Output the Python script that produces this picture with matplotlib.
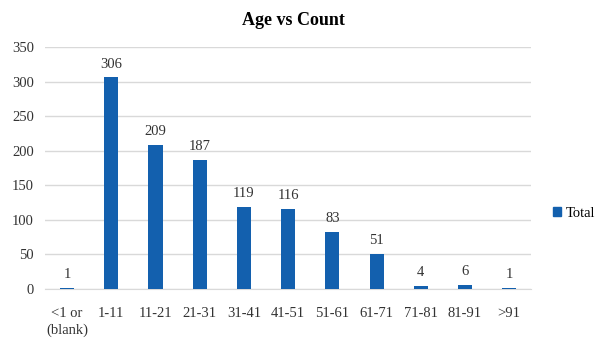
import matplotlib.pyplot as plt
from matplotlib.patches import Patch

plt.rcParams["font.family"] = ["Liberation Serif", "DejaVu Serif"]

categories = ["<1 or\n(blank)", "1-11", "11-21", "21-31", "31-41", "41-51",
              "51-61", "61-71", "71-81", "81-91", ">91"]
totals = [1, 306, 209, 187, 119, 116, 83, 51, 4, 6, 1]

bar_color = "#1360AE"

fig = plt.figure(figsize=(5.96, 3.41), dpi=100, facecolor="white")
ax = fig.add_axes([0.0755, 0.1525, 0.816, 0.7095])

x = range(len(categories))
ax.bar(x, totals, width=0.32, color=bar_color, zorder=3)
for xi, v in zip(x, totals):
    ax.text(xi, v + 10, str(v), ha="center", va="bottom", fontsize=10.5,
            color="#333333")

ax.set_xlim(-0.5, len(categories) - 0.5)
ax.set_ylim(0, 350)
ax.set_yticks(range(0, 351, 50))
ax.set_xticks(list(x))
ax.set_xticklabels(categories, fontsize=10.5, color="#333333", va="top",
                   linespacing=1.35)
ax.tick_params(axis="y", labelsize=10.5, labelcolor="#333333", length=0, pad=8)
ax.tick_params(axis="x", length=0, pad=13)
ax.yaxis.grid(True, color="#d9d9d9", lw=1, zorder=0)
for side in ["top", "right", "left"]:
    ax.spines[side].set_visible(False)
ax.spines["bottom"].set_color("#d9d9d9")

fig.text(0.493, 0.94, "Age vs Count", ha="center", va="center",
         fontsize=13, fontweight="bold")

fig.legend(handles=[Patch(color=bar_color, label="Total")],
           loc="center left", bbox_to_anchor=(0.905, 0.375), frameon=False,
           fontsize=10.5, handlelength=0.6, handleheight=0.6, handletextpad=0.3)

fig.savefig("out.png", dpi=100, facecolor="white")
